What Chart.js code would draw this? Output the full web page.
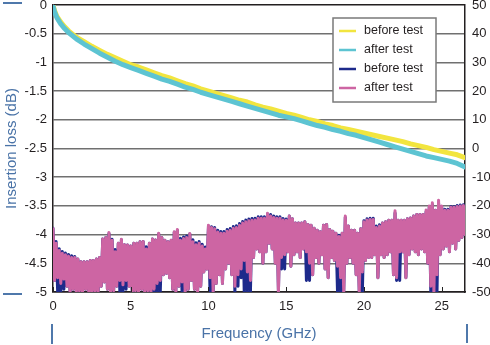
<!DOCTYPE html>
<html>
<head>
<meta charset="utf-8">
<script src="https://cdn.jsdelivr.net/npm/chart.js@4/dist/chart.umd.min.js"></script>
<style>
html,body{margin:0;padding:0;background:#fff;}
canvas{display:block;}
</style>
</head>
<body>
<canvas id="c" width="490" height="345" style="width:490px;height:345px"></canvas>
<script>
// ---- Insertion loss (left axis, dB) ----
const ilFreq = [0,0.1,0.25,0.5,0.75,1,1.5,2,2.5,3,3.5,4,4.5,5,5.5,6,6.5,7,7.5,8,8.5,9,9.5,10,10.5,11,11.5,12,12.5,13,13.5,14,14.5,15,15.5,16,16.5,17,17.5,18,18.5,19,19.5,20,20.5,21,21.5,22,22.5,23,23.5,24,24.5,25,25.5,26,26.5];
const ilBefore = [0,-0.1,-0.2,-0.3,-0.38,-0.45,-0.56,-0.64,-0.72,-0.79,-0.86,-0.92,-0.98,-1.04,-1.08,-1.13,-1.18,-1.23,-1.27,-1.32,-1.37,-1.41,-1.46,-1.50,-1.54,-1.58,-1.62,-1.66,-1.69,-1.74,-1.78,-1.81,-1.85,-1.89,-1.92,-1.96,-2.00,-2.03,-2.07,-2.10,-2.14,-2.17,-2.20,-2.23,-2.26,-2.29,-2.32,-2.35,-2.38,-2.42,-2.45,-2.48,-2.52,-2.55,-2.58,-2.61,-2.66];
const ilAfter = [-0.02,-0.12,-0.22,-0.33,-0.41,-0.48,-0.59,-0.68,-0.76,-0.84,-0.91,-0.98,-1.04,-1.09,-1.14,-1.19,-1.24,-1.29,-1.33,-1.38,-1.43,-1.47,-1.52,-1.56,-1.60,-1.64,-1.68,-1.72,-1.76,-1.80,-1.84,-1.88,-1.92,-1.95,-1.98,-2.02,-2.06,-2.10,-2.13,-2.17,-2.20,-2.24,-2.27,-2.31,-2.35,-2.39,-2.43,-2.47,-2.51,-2.55,-2.59,-2.63,-2.66,-2.69,-2.72,-2.76,-2.82];

// ---- Return loss (right axis, dB): noisy traces, peaks sampled every 0.2 GHz from 0, troughs every 0.2 GHz from 0.1 ----
const rlStep = 0.2;
const rlBeforePeaks = [
 -27.8,-32.4,-34.9,-35.9,-36.4,-36.9,-37.4,-37.6,-38.5,-39.5,
 -39.5,-39.5,-39,-39,-38.5,-38,-31.5,-31,-29.6,-31.6,
 -35.2,-33,-31.8,-33.5,-33.6,-34,-33,-33,-32.5,-32.4,
 -34.2,-33,-31.5,-31.9,-29.8,-31,-32,-32.5,-32,-29.2,
 -28.5,-31.3,-30.8,-30.5,-29.8,-31.8,-32.8,-32.4,-33.4,-34.3,
 -27,-27.3,-27.5,-28.5,-28.9,-28.9,-28.2,-27.9,-27.2,-26.9,
 -26.1,-25.4,-24.9,-24.6,-24.4,-24.3,-23.8,-23.8,-23.8,-22.8,
 -23,-23.5,-23.8,-23.8,-24.4,-24.6,-23.5,-24.5,-26,-26,
 -26,-25.5,-26.5,-26.7,-27.8,-28.5,-29,-26.7,-26.5,-28.2,
 -28.8,-29.5,-30.2,-29.5,-24,-27,-28.5,-28.5,-29.5,-28,
 -25.2,-24.5,-24.3,-24.3,-27,-26.6,-26,-25.5,-25,-25,
 -22.5,-25,-25,-25,-24.5,-24.2,-23.5,-23,-23,-23,
 -22,-20.5,-19.5,-21.5,-19,-20.2,-21.2,-21.2,-20.2,-20.2,
 -19.9,-19.7,-19.6];
const rlBeforeTroughs = [
 -46,-50,-50,-49,-48,-50,-49,-50,-49.5,-50,
 -49,-50,-50,-49.5,-50,-48,-46.5,-49,-50,-49.5,
 -48,-50,-50,-49,-48,-50,-49.5,-50,-49,-50,
 -49.5,-50,-50,-50,-50,-44,-43.5,-45,-49,-50,
 -48,-50,-50,-49,-46,-49,-50,-48,-43,-42,
 -50,-50,-47,-44,-47,-42,-40,-44,-50,-48,
 -45,-50,-50,-50,-38,-35,-36,-40,-36,-33,
 -35,-40,-50,-42,-42,-36,-41,-37,-36,-38,
 -35,-46,-46,-44,-38,-40,-37,-42,-45,-38,
 -39,-50,-50,-50,-40,-38,-40,-44,-50,-50,
 -39,-38,-38,-37,-45,-37,-38,-37,-36,-44,
 -46,-46,-36,-45,-37,-35,-36,-37,-35,-36,
 -40,-50,-50,-50,-37,-35,-34,-36,-33,-35,
 -32,-31,-30];
const rlAfterPeaks = [
 -28,-33,-35.5,-36.5,-37,-37.5,-38,-38,-38.5,-39.5,
 -39.5,-39.5,-39,-39,-38.5,-38,-31.5,-31,-29.3,-32,
 -36,-33,-31.6,-33.5,-33.6,-34,-33,-33,-32.5,-32.4,
 -35,-33,-31.5,-31.9,-29.5,-31,-32,-32.5,-32,-29,
 -28.2,-32,-31.4,-31,-29.6,-32.5,-33.5,-33,-34,-35,
 -26.7,-27.5,-28,-29.1,-29.5,-29.5,-28.8,-28.5,-27.8,-27.5,
 -26.7,-26,-25.5,-25.2,-25,-24.9,-24.3,-24.3,-24.3,-22.6,
 -23.5,-24,-24.3,-24.3,-24.9,-25,-23.5,-24.5,-26,-26,
 -26,-25.5,-26.5,-26.7,-27.8,-28.5,-29,-26.7,-26.5,-28.2,
 -28.8,-29.5,-30.7,-29.5,-23.5,-27,-28.5,-28.5,-29.5,-28,
 -25.5,-24.9,-24.7,-24.7,-27.5,-27,-26,-25.5,-25,-25,
 -21.7,-25,-25,-25,-24.5,-24.2,-23.5,-23,-23,-23,
 -21.4,-20,-18.9,-21.5,-18,-20,-21.5,-21.5,-20.5,-20.5,
 -20.2,-20,-19.9];
const rlAfterTroughs = [
 -46,-45,-47,-45.5,-48,-50,-49,-50,-49.5,-50,
 -49,-50,-50,-49.5,-50,-48,-46.5,-49,-50,-49.5,
 -48,-46,-47.5,-46,-48,-50,-49.5,-50,-49,-50,
 -49.5,-50,-49,-47,-46,-44,-43.5,-45,-49,-50,
 -48,-46.5,-50,-49,-46,-49,-50,-48,-43,-42,
 -45,-50,-47,-44,-47,-42,-40,-44,-48,-44,
 -42,-39,-43,-46,-38,-35,-36,-40,-36,-33,
 -35,-40,-50,-38,-37,-36,-41,-37,-36,-38,
 -35,-36,-40,-44,-38,-40,-37,-42,-45,-38,
 -39,-41,-45,-50,-40,-38,-40,-44,-50,-43,
 -39,-38,-38,-37,-45,-37,-38,-37,-36,-44,
 -45,-36,-36,-45,-37,-35,-36,-37,-35,-36,
 -40,-48,-50,-44,-37,-35,-34,-36,-33,-35,
 -32,-31,-30];

const labels = ['before test','after test','before test','after test'];
const colors = ['#f2e53f','#5dc4d2','#1d2a8b','#cd65a3'];

function pairs(xs, ys){ return xs.map((x,i)=>({x:x, y:ys[i]})); }
function trace(peaks, troughs){
  const pts = [];
  for (let i=0;i<peaks.length;i++){
    pts.push({x: +(i*rlStep).toFixed(2), y: peaks[i]});
    if (i < troughs.length) pts.push({x: +(i*rlStep + rlStep/2).toFixed(2), y: troughs[i]});
  }
  return pts;
}

Chart.defaults.font.family = "'Liberation Sans', Arial, sans-serif";
Chart.defaults.color = '#231f20';

const legendOrder = [0,1,2,3];

const decor = {
  id: 'decor',
  afterDraw(chart){
    const ctx = chart.ctx, a = chart.chartArea;
    ctx.save();
    // inward x ticks
    const xs = chart.scales.x;
    ctx.strokeStyle = '#222'; ctx.lineWidth = 1;
    ctx.beginPath();
    xs.ticks.forEach(t => { const px = Math.round(xs.getPixelForValue(t.value)) + 0.5; ctx.moveTo(px, a.bottom); ctx.lineTo(px, a.bottom - 5); });
    ctx.stroke();
    // blue marks
    ctx.strokeStyle = '#4f78ab'; ctx.lineWidth = 2;
    ctx.beginPath();
    ctx.moveTo(3, a.top - 2); ctx.lineTo(22, a.top - 2);
    ctx.moveTo(3, a.bottom + 2); ctx.lineTo(22, a.bottom + 2);
    ctx.moveTo(a.left - 1, a.bottom + 32); ctx.lineTo(a.left - 1, a.bottom + 52);
    ctx.moveTo(a.right + 2, a.bottom + 32); ctx.lineTo(a.right + 2, a.bottom + 51);
    ctx.stroke();
    // legend box
    const bx = a.right - 132, by = a.top + 13, bw = 103, bh = 84;
    ctx.fillStyle = '#fff';
    ctx.fillRect(bx, by, bw, bh);
    ctx.strokeStyle = '#7a7a7a'; ctx.lineWidth = 1.5;
    ctx.strokeRect(bx, by, bw, bh);
    ctx.font = "12.5px 'Liberation Sans', Arial, sans-serif";
    ctx.textBaseline = 'middle';
    ctx.fillStyle = '#231f20';
    legendOrder.forEach((di, k) => {
      const ds = chart.data.datasets[di];
      const y = by + 13 + k * 19;
      ctx.strokeStyle = ds.borderColor; ctx.lineWidth = 2.5;
      ctx.beginPath(); ctx.moveTo(bx + 6, y); ctx.lineTo(bx + 23, y); ctx.stroke();
      ctx.fillText(ds.label, bx + 31, y);
    });
    ctx.restore();
  }
};

new Chart(document.getElementById('c'), {
  type: 'line',
  data: {
    datasets: [
      { label: labels[0], data: pairs(ilFreq, ilBefore), borderColor: colors[0], borderWidth: 5, yAxisID: 'y', order: 1 },
      { label: labels[1], data: pairs(ilFreq, ilAfter), borderColor: colors[1], borderWidth: 5, yAxisID: 'y', order: 0 },
      { label: labels[2], data: trace(rlBeforePeaks, rlBeforeTroughs), borderColor: colors[2], borderWidth: 3, yAxisID: 'y2', order: 3 },
      { label: labels[3], data: trace(rlAfterPeaks, rlAfterTroughs), borderColor: colors[3], borderWidth: 3, yAxisID: 'y2', order: 2 }
    ]
  },
  options: {
    responsive: false,
    animation: false,
    events: [],
    elements: { point: { radius: 0 }, line: { tension: 0, borderJoinStyle: 'round', borderCapStyle: 'round' } },
    layout: { padding: { top: 5, left: 0, right: 0, bottom: 0 } },
    plugins: { legend: { display: false }, tooltip: { enabled: false } },
    scales: {
      x: {
        type: 'linear', min: 0, max: 26.5,
        ticks: { stepSize: 5, includeBounds: false, padding: 7, font: { size: 13 }, maxRotation: 0 },
        grid: { display: false, drawTicks: false },
        border: { color: '#231f20', width: 1.5 },
        title: { display: true, text: 'Frequency (GHz)', color: '#4a73a7', font: { size: 15 }, padding: { top: 0, bottom: 2 } },
        afterFit(s){ s.height = 53; s.paddingLeft = 0; s.paddingRight = 0; }
      },
      y: {
        position: 'left', min: -5, max: 0,
        ticks: { stepSize: 0.5, padding: 6, font: { size: 13 }, callback: v => String(Math.round(v * 10) / 10) },
        grid: { drawTicks: false, color: c => (c.tick && (c.tick.value === 0 || c.tick.value === -5)) ? '#231f20' : '#707070', lineWidth: 1.5 },
        border: { color: '#231f20', width: 1.5 },
        title: { display: true, text: 'Insertion loss (dB)', color: '#4a73a7', font: { size: 15 }, padding: { top: 3, bottom: 0 } },
        afterFit(s){ s.width = 53; s.paddingTop = 0; s.paddingBottom = 0; }
      },
      y2: {
        position: 'right', min: -50, max: 50,
        ticks: { stepSize: 10, padding: 7, font: { size: 13 } },
        grid: { display: false, drawTicks: false },
        border: { color: '#231f20', width: 1.5 },
        afterFit(s){ s.width = 25; s.paddingTop = 0; s.paddingBottom = 0; }
      }
    }
  },
  plugins: [decor]
});
</script>
</body>
</html>
